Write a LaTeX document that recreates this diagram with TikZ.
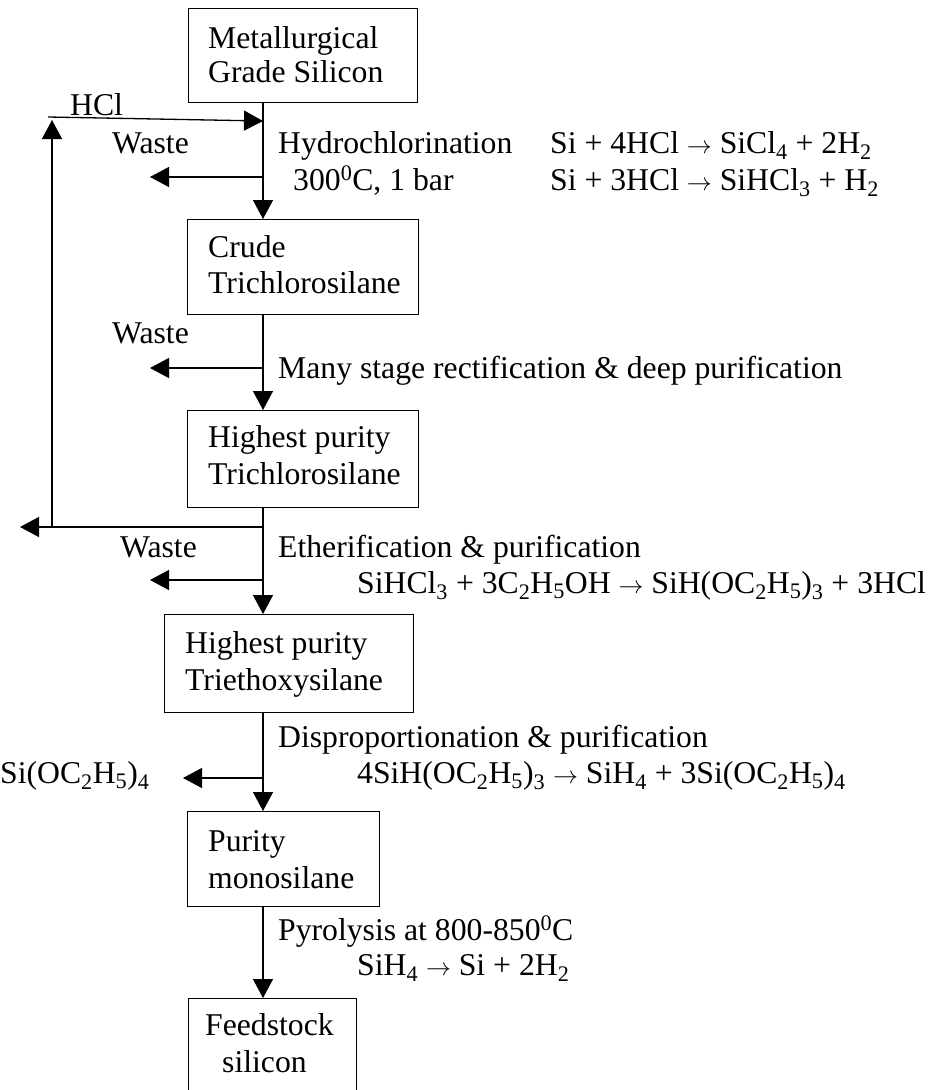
\documentclass[tikz,border=0pt]{standalone}
\usepackage{fontspec}
\setmainfont{Liberation Serif}
\usetikzlibrary{arrows.meta}
\newcommand{\sbs}[1]{\textsubscript{#1}}
\newcommand{\rarr}{\ensuremath{\rightarrow}}
\begin{document}
\begin{tikzpicture}[x=1pt,y=-1pt,
  box/.style={draw, line width=1.4pt, inner sep=0pt, anchor=north west},
  arr/.style={line width=1.3pt, -{Triangle[length=19pt,width=20pt]}},
  ln/.style={line width=1.3pt},
  lbl/.style={anchor=base west, inner sep=0pt, font=\fontsize{31.7}{36}\selectfont}]
\useasboundingbox (0,0) rectangle (934,1090);
% boxes
\node[box, minimum width=229pt, minimum height=94pt] (b1) at (188,8) {};
\node[box, minimum width=231pt, minimum height=95pt] (b2) at (187,219) {};
\node[box, minimum width=231pt, minimum height=97pt] (b3) at (187,410) {};
\node[box, minimum width=249pt, minimum height=98pt] (b4) at (164,614) {};
\node[box, minimum width=192pt, minimum height=95pt] (b5) at (187,811) {};
\node[box, minimum width=168pt, minimum height=100pt] (b6) at (188,998) {};
% box texts
\node[lbl] (t1a) at (208,48) {Metallurgical};
\node[lbl] (t1b) at (208,82) {Grade Silicon};
\node[lbl] (t2a) at (208,257) {Crude};
\node[lbl] (t2b) at (208,293) {Trichlorosilane};
\node[lbl] (t3a) at (208,447) {Highest purity};
\node[lbl] (t3b) at (208,484) {Trichlorosilane};
\node[lbl] (t4a) at (185,653) {Highest purity};
\node[lbl] (t4b) at (185,690) {Triethoxysilane};
\node[lbl] (t5a) at (208,851) {Purity};
\node[lbl] (t5b) at (208,888) {monosilane};
\node[lbl] (t6a) at (205,1035) {Feedstock};
\node[lbl] (t6b) at (222,1072) {silicon};
% main line coordinate
\coordinate (m) at (263,0);
% main flow arrows
\draw[arr] (b1.south -| m) -- (b2.north -| m);
\draw[arr] (b2.south -| m) -- (b3.north -| m);
\draw[arr] (b3.south -| m) -- (b4.north -| m);
\draw[arr] (b4.south -| m) -- (b5.north -| m);
\draw[arr] (b5.south -| m) -- (b6.north -| m);
% HCl recycle
\coordinate (hs) at (48,117);
\coordinate (he) at (263,121);
\draw[arr] (hs) -- (he);
\coordinate (rl) at (20,527);
\coordinate (rv) at (52,527);
\coordinate (ru) at (52,120);
\draw[arr] (rl -| m) -- (rl);
\draw[arr] (rv) -- (ru);
\node[lbl] (hcl) at (70,115) {HCl};
% waste 1
\coordinate (w1) at (150,177);
\draw[arr] (w1 -| m) -- (w1);
\node[lbl] (wl1) at (112,153) {Waste};
% waste 2
\coordinate (w2) at (150,368);
\draw[arr] (w2 -| m) -- (w2);
\node[lbl] (wl2) at (112,343) {Waste};
% waste 3
\coordinate (w3) at (150,580);
\draw[arr] (w3 -| m) -- (w3);
\node[lbl] (wl3) at (120,557) {Waste};
% Si(OC2H5)4 out
\coordinate (w4) at (183,778);
\draw[arr] (w4 -| m) -- (w4);
\node[lbl] (wl4) at (0,783) {Si(OC\sbs{2}H\sbs{5})\sbs{4}};
% process labels
\node[lbl] (p1) at (278,153) {Hydrochlorination};
\node[lbl] (p1b) at (293,190) {300\textsuperscript{0}C, 1 bar};
\node[lbl] (e1) at (550,153) {Si + 4HCl \rarr{} SiCl\sbs{4} + 2H\sbs{2}};
\node[lbl] (e2) at (550,190) {Si + 3HCl \rarr{} SiHCl\sbs{3} + H\sbs{2}};
\node[lbl] (p2) at (278,378) {Many stage rectification \& deep purification};
\node[lbl] (p3) at (278,557) {Etherification \& purification};
\node[lbl] (e3) at (357,593) {SiHCl\sbs{3} + 3C\sbs{2}H\sbs{5}OH \rarr{} SiH(OC\sbs{2}H\sbs{5})\sbs{3} + 3HCl};
\node[lbl] (p4) at (278,747) {Disproportionation \& purification};
\node[lbl] (e4) at (357,783) {4SiH(OC\sbs{2}H\sbs{5})\sbs{3} \rarr{} SiH\sbs{4} + 3Si(OC\sbs{2}H\sbs{5})\sbs{4}};
\node[lbl] (p5) at (278,940) {Pyrolysis at 800-850\textsuperscript{0}C};
\node[lbl] (e5) at (357,975) {SiH\sbs{4} \rarr{} Si + 2H\sbs{2}};
\end{tikzpicture}
\end{document}
